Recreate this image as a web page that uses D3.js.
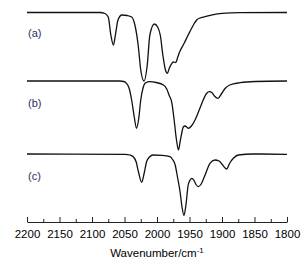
<!DOCTYPE html>
<html>
<head>
<meta charset="utf-8">
<script src="https://cdn.jsdelivr.net/npm/d3@7"></script>
<style>
  body { margin: 0; background: #fff; }
  svg text { font-family: "Liberation Sans", Arial, sans-serif; }
</style>
</head>
<body>
<div id="chart"></div>
<script>
// wavenumbers (cm-1) and offset intensities (a.u.)
const waveA = [2200, 2088, 2080, 2075, 2071, 2067, 2064, 2060, 2054, 2046, 2039, 2034, 2029, 2025, 2020, 2015, 2011, 2004, 1999, 1995, 1991, 1987, 1984, 1981, 1977, 1975, 1971, 1968, 1965, 1958, 1952, 1944, 1939, 1934, 1926, 1915, 1900, 1872, 1800];
const specA = [209.5, 209.5, 208.5, 205, 187, 177, 187, 202, 207, 206.5, 205, 197, 177, 152, 141, 157, 187, 198, 195, 187, 167, 152, 148.7, 154, 158.7, 160, 159.5, 165, 170.3, 179, 187, 197, 202, 204, 205.3, 207.2, 208.7, 209.3, 209.5];

const waveB = [2200, 2057, 2051, 2047, 2043, 2039, 2035, 2031.5, 2028, 2025, 2021.5, 2018, 2011, 2001.5, 1990, 1985, 1981.5, 1977, 1974, 1970, 1967, 1964, 1959.5, 1957, 1954, 1952, 1947, 1941.5, 1936, 1931, 1923.5, 1919.5, 1915, 1911, 1906, 1901, 1895, 1888, 1872, 1849, 1800];
const specB = [141, 141, 140.5, 138.7, 134, 122, 105, 93.7, 104, 122, 134, 139, 140.3, 139.5, 137, 133, 127, 118.7, 104, 82, 72, 82, 95, 96, 94.8, 93.7, 96, 102, 110.5, 118.7, 128.7, 130.3, 129, 125.5, 123.7, 128, 133.7, 137, 139.3, 140.5, 141];

const waveC = [2200, 2049, 2041.5, 2036.5, 2032, 2028.5, 2023.5, 2020, 2016, 2011.5, 2006, 1992, 1980, 1976, 1972, 1968.5, 1964.5, 1961.5, 1958.5, 1955.5, 1952, 1949, 1946.5, 1943, 1940, 1936.5, 1932, 1926, 1918.5, 1911, 1904.5, 1899, 1893, 1888, 1882.5, 1875, 1852, 1800];
const specC = [68, 67.7, 67, 65.3, 60, 50, 39.7, 48, 60.3, 65, 67, 66.7, 65.3, 62.5, 57, 45, 30, 15, 6.5, 17, 37, 42, 43.7, 41.5, 37.5, 35.3, 38, 47, 58.7, 62, 61, 57, 53, 59, 63.7, 67, 68, 67.7];

const seriesNames = ["(a)", "(b)", "(c)"];
const labelLevels = [189, 119, 46];
const majorTicks = [2200, 2150, 2100, 2050, 2000, 1950, 1900, 1850, 1800];
const minorTicks = [2175, 2125, 2075, 2025, 1975, 1925, 1875, 1825];

const width = 306, height = 267;
const axisY = 222;

const svg = d3.select("#chart").append("svg")
    .attr("width", width)
    .attr("height", height);

const x = d3.scaleLinear().domain([2200, 1800]).range([27, 287]);
const y = d3.scaleLinear().domain([0, 222]).range([axisY, 0]);

const line = d3.line()
    .x(d => x(d[0]))
    .y(d => y(d[1]))
    .curve(d3.curveMonotoneX);

const spectra = [
    d3.zip(waveA, specA),
    d3.zip(waveB, specB),
    d3.zip(waveC, specC)
];

svg.selectAll("path.spec")
    .data(spectra)
    .enter()
    .append("path")
    .attr("class", "spec")
    .attr("d", line)
    .attr("fill", "none")
    .attr("stroke", "#111")
    .attr("stroke-width", 1.3);

svg.selectAll("text.lbl")
    .data(seriesNames)
    .enter()
    .append("text")
    .attr("class", "lbl")
    .attr("x", 28)
    .attr("y", (d, i) => y(labelLevels[i]))
    .attr("dy", "0.35em")
    .attr("font-size", 11)
    .attr("fill", "#1c2f66")
    .text(d => d);

// x axis, ticks pointing inward
const gx = svg.append("g").attr("transform", `translate(0,${axisY})`);
gx.call(d3.axisBottom(x)
    .tickValues(majorTicks)
    .tickFormat(d3.format("d"))
    .tickSizeInner(-5)
    .tickSizeOuter(0)
    .tickPadding(8));
gx.selectAll("text").attr("font-size", 11.5).attr("fill", "#000");
gx.selectAll("line, path").attr("stroke", "#222");

const gm = svg.append("g").attr("transform", `translate(0,${axisY})`);
gm.call(d3.axisBottom(x)
    .tickValues(minorTicks)
    .tickFormat("")
    .tickSizeInner(-3)
    .tickSizeOuter(0));
gm.select(".domain").remove();
gm.selectAll("line").attr("stroke", "#222");

const title = svg.append("text")
    .attr("x", 157)
    .attr("y", 257)
    .attr("text-anchor", "middle")
    .attr("font-size", 11.5)
    .attr("fill", "#000");
title.append("tspan").text("Wavenumber/cm");
title.append("tspan").attr("dy", -4).attr("font-size", 8).text("-1");
</script>
</body>
</html>
